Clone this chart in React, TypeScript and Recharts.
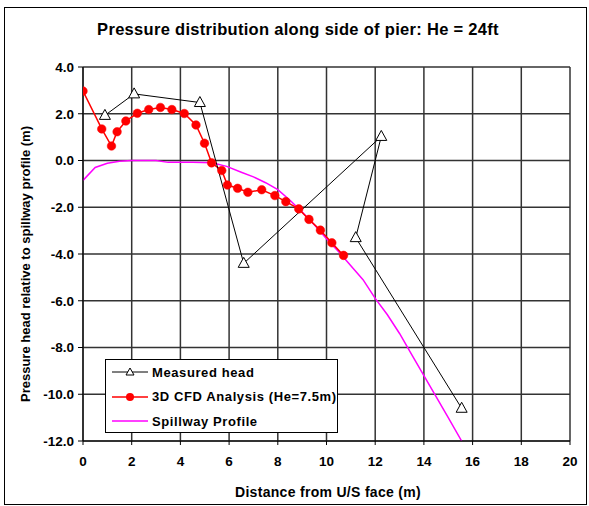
import React from 'react';
import { LineChart, Line, XAxis, YAxis, CartesianGrid } from 'recharts';

// Measured head (order matters: the line doubles back)
const measuredX = [0.9, 2.1, 4.8, 6.6, 12.25, 11.2, 15.55];
const measuredY = [1.93, 2.85, 2.48, -4.4, 1.03, -3.3, -10.6];

// 3D CFD analysis (He = 7.5m)
const cfdX = [0, 0.77, 1.17, 1.4, 1.76, 2.23, 2.7, 3.18, 3.65, 4.16, 4.64, 4.99, 5.28, 5.7, 5.93, 6.35, 6.77, 7.34, 7.88, 8.33, 8.86, 9.28, 9.75, 10.22, 10.7];
const cfdY = [2.97, 1.35, 0.62, 1.23, 1.69, 2.02, 2.18, 2.27, 2.18, 2.01, 1.52, 0.74, -0.1, -0.43, -1.05, -1.19, -1.36, -1.25, -1.5, -1.76, -2.07, -2.52, -2.98, -3.52, -4.06];

// Spillway profile
const profileX = [0, 0.5, 1.0, 1.5, 2.0, 3.0, 3.5, 4.5, 5.3, 5.9, 6.5, 7.0, 7.5, 8.0, 8.5, 9.0, 9.5, 10.0, 10.5, 11.0, 11.5, 12.0, 12.5, 13.0, 13.5, 14.0, 14.5, 15.0, 15.55];
const profileY = [-0.85, -0.3, -0.12, -0.03, 0, 0, -0.08, -0.08, -0.1, -0.25, -0.5, -0.7, -0.95, -1.25, -1.7, -2.2, -2.75, -3.35, -3.9, -4.5, -5.1, -5.9, -6.6, -7.4, -8.3, -9.2, -10.1, -11.0, -12.0];

const xTicks = [0, 2, 4, 6, 8, 10, 12, 14, 16, 18, 20];
const yTicks = [-12, -10, -8, -6, -4, -2, 0, 2, 4];

const zip = (xs: number[], ys: number[]) => xs.map((x, i) => ({ x, y: ys[i] }));

const measured = zip(measuredX, measuredY);
const cfd = zip(cfdX, cfdY);
const profile = zip(profileX, profileY);

const FONT = '"Liberation Sans", Arial, sans-serif';
const tickStyle = { fontFamily: FONT, fontSize: 13.5, fontWeight: 700, fill: '#000' };

const Triangle = (props: any) => {
  const { cx, cy, index } = props;
  if (cx == null || cy == null) return null;
  return (
    <path
      key={`tri-${index}`}
      d={`M${cx},${cy - 6} L${cx + 5.5},${cy + 4} L${cx - 5.5},${cy + 4} Z`}
      fill="#fff"
      stroke="#000"
      strokeWidth={1}
    />
  );
};

const LegendRow = ({ kind, label }: { kind: 'tri' | 'dot' | 'line'; label: string }) => (
  <div style={{ display: 'flex', alignItems: 'center', height: 24.5 }}>
    <svg width={42} height={14} style={{ flex: 'none' }}>
      {kind === 'tri' && (
        <>
          <line x1={4} y1={7} x2={40} y2={7} stroke="#000" strokeWidth={1} />
          <path d="M22,3 L26,10 L18,10 Z" fill="#fff" stroke="#000" strokeWidth={1} />
        </>
      )}
      {kind === 'dot' && (
        <>
          <line x1={4} y1={7} x2={40} y2={7} stroke="#ff0000" strokeWidth={1.5} />
          <circle cx={22} cy={7} r={4} fill="#ff0000" />
        </>
      )}
      {kind === 'line' && <line x1={4} y1={7} x2={40} y2={7} stroke="#ff00ff" strokeWidth={1.5} />}
    </svg>
    <span
      style={{
        marginLeft: 2,
        fontFamily: FONT,
        fontSize: 13,
        fontWeight: 700,
        letterSpacing: 0.6,
        whiteSpace: 'nowrap',
      }}
    >
      {label}
    </span>
  </div>
);

export default function App() {
  return (
    <div style={{ position: 'absolute', left: 0, top: 0, width: 589, height: 506, background: '#fff' }}>
      <div
        style={{
          position: 'absolute',
          left: 4,
          top: 7,
          width: 583,
          height: 498,
          border: '1px solid #000',
          boxSizing: 'border-box',
        }}
      />
      <div
        style={{
          position: 'absolute',
          left: 298,
          top: 29,
          transform: 'translate(-50%, -50%)',
          fontFamily: FONT,
          fontSize: 16.5,
          fontWeight: 700,
          letterSpacing: 0.3,
          whiteSpace: 'nowrap',
        }}
      >
        Pressure distribution along side of pier: He = 24ft
      </div>

      <div style={{ position: 'absolute', left: 0, top: 0 }}>
        <LineChart width={589} height={506} margin={{ top: 67, right: 19, bottom: 35, left: 28 }}>
          <CartesianGrid stroke="#333" strokeWidth={1.5} horizontalValues={yTicks} verticalValues={xTicks} />
          <XAxis
            type="number"
            dataKey="x"
            domain={[0, 20]}
            ticks={xTicks}
            interval={0}
            allowDataOverflow
            height={30}
            stroke="#000"
            tickSize={4}
            tickMargin={11}
            tick={tickStyle}
          />
          <YAxis
            type="number"
            dataKey="y"
            domain={[-12, 4]}
            ticks={yTicks}
            interval={0}
            allowDataOverflow
            width={55}
            stroke="#000"
            tickSize={5}
            tickMargin={4}
            tick={tickStyle}
            tickFormatter={(v: number) => v.toFixed(1)}
          />
          <Line
            data={profile}
            dataKey="y"
            type="linear"
            stroke="#ff00ff"
            strokeWidth={1.5}
            dot={false}
            isAnimationActive={false}
          />
          <Line
            data={cfd}
            dataKey="y"
            type="linear"
            stroke="#ff0000"
            strokeWidth={1.5}
            dot={{ r: 4.3, fill: '#ff0000', stroke: '#ff0000', strokeWidth: 0.5 }}
            isAnimationActive={false}
          />
          <Line
            data={measured}
            dataKey="y"
            type="linear"
            stroke="#000"
            strokeWidth={1}
            dot={<Triangle />}
            isAnimationActive={false}
          />
        </LineChart>
      </div>

      <div
        style={{
          position: 'absolute',
          left: 105,
          top: 359,
          width: 233,
          height: 74,
          border: '1px solid #000',
          boxSizing: 'border-box',
          background: '#fff',
          paddingLeft: 2,
        }}
      >
        <LegendRow kind="tri" label="Measured head" />
        <LegendRow kind="dot" label="3D CFD Analysis (He=7.5m)" />
        <LegendRow kind="line" label="Spillway Profile" />
      </div>

      <div
        style={{
          position: 'absolute',
          left: 328,
          top: 492,
          transform: 'translate(-50%, -50%)',
          fontFamily: FONT,
          fontSize: 14,
          fontWeight: 700,
          letterSpacing: 0.3,
          whiteSpace: 'nowrap',
        }}
      >
        Distance from U/S face (m)
      </div>
      <div
        style={{
          position: 'absolute',
          left: 25,
          top: 264,
          transform: 'translate(-50%, -50%) rotate(-90deg)',
          fontFamily: FONT,
          fontSize: 13,
          fontWeight: 700,
          whiteSpace: 'nowrap',
        }}
      >
        Pressure head relative to spillway profile (m)
      </div>
    </div>
  );
}
